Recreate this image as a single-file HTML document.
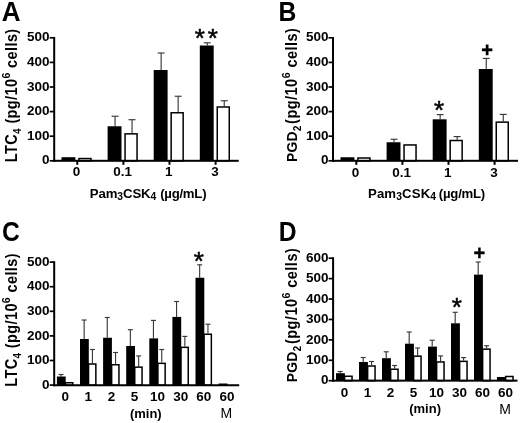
<!DOCTYPE html>
<html><head><meta charset="utf-8"><title>Figure</title>
<style>
html,body{margin:0;padding:0;background:#fff;}
svg{display:block;font-family:"Liberation Sans", Arial, Helvetica, sans-serif;fill:#000;filter:blur(0.4px);}
</style></head>
<body>
<svg width="520" height="423" viewBox="0 0 520 423">
<rect x="0" y="0" width="520" height="423" fill="#fff"/>
<text transform="translate(1.70,21.10) scale(1.0,1.04)" font-size="26" font-weight="bold">A</text>
<rect x="78.95" y="158.55" width="12.00" height="2.25" fill="#fff" stroke="#000" stroke-width="1.5"/>
<rect x="61.50" y="157.20" width="13.90" height="3.60" fill="#000" />
<line x1="132.05" y1="133.10" x2="132.05" y2="119.70" stroke="#3a3a3a" stroke-width="1.15"/>
<line x1="128.55" y1="119.70" x2="135.55" y2="119.70" stroke="#3a3a3a" stroke-width="1.15"/>
<rect x="125.05" y="133.85" width="12.00" height="26.95" fill="#fff" stroke="#000" stroke-width="1.5"/>
<line x1="115.05" y1="126.25" x2="115.05" y2="116.25" stroke="#3a3a3a" stroke-width="1.15"/>
<line x1="111.55" y1="116.25" x2="118.55" y2="116.25" stroke="#3a3a3a" stroke-width="1.15"/>
<rect x="107.60" y="126.25" width="13.90" height="34.55" fill="#000" />
<line x1="178.15" y1="112.00" x2="178.15" y2="96.25" stroke="#3a3a3a" stroke-width="1.15"/>
<line x1="174.65" y1="96.25" x2="181.65" y2="96.25" stroke="#3a3a3a" stroke-width="1.15"/>
<rect x="171.15" y="112.75" width="12.00" height="48.05" fill="#fff" stroke="#000" stroke-width="1.5"/>
<line x1="161.15" y1="70.00" x2="161.15" y2="53.00" stroke="#3a3a3a" stroke-width="1.15"/>
<line x1="157.65" y1="53.00" x2="164.65" y2="53.00" stroke="#3a3a3a" stroke-width="1.15"/>
<rect x="153.70" y="70.00" width="13.90" height="90.80" fill="#000" />
<line x1="224.25" y1="106.25" x2="224.25" y2="100.75" stroke="#3a3a3a" stroke-width="1.15"/>
<line x1="220.75" y1="100.75" x2="227.75" y2="100.75" stroke="#3a3a3a" stroke-width="1.15"/>
<rect x="217.25" y="107.00" width="12.00" height="53.80" fill="#fff" stroke="#000" stroke-width="1.5"/>
<line x1="207.25" y1="45.50" x2="207.25" y2="42.80" stroke="#3a3a3a" stroke-width="1.15"/>
<line x1="203.75" y1="42.80" x2="210.75" y2="42.80" stroke="#3a3a3a" stroke-width="1.15"/>
<rect x="199.80" y="45.50" width="13.90" height="115.30" fill="#000" />
<rect x="53.20" y="36.95" width="2.00" height="124.85" fill="#000" />
<rect x="53.20" y="159.80" width="185.55" height="2.00" fill="#000" />
<rect x="49.70" y="159.95" width="4.50" height="1.70" fill="#000" />
<text x="49.60" y="164.45" font-size="13.5" font-weight="bold" text-anchor="end" >0</text>
<rect x="49.70" y="135.35" width="4.50" height="1.70" fill="#000" />
<text x="49.60" y="139.85" font-size="13.5" font-weight="bold" text-anchor="end" >100</text>
<rect x="49.70" y="110.75" width="4.50" height="1.70" fill="#000" />
<text x="49.60" y="115.25" font-size="13.5" font-weight="bold" text-anchor="end" >200</text>
<rect x="49.70" y="86.15" width="4.50" height="1.70" fill="#000" />
<text x="49.60" y="90.65" font-size="13.5" font-weight="bold" text-anchor="end" >300</text>
<rect x="49.70" y="61.55" width="4.50" height="1.70" fill="#000" />
<text x="49.60" y="66.05" font-size="13.5" font-weight="bold" text-anchor="end" >400</text>
<rect x="49.70" y="36.95" width="4.50" height="1.70" fill="#000" />
<text x="49.60" y="41.45" font-size="13.5" font-weight="bold" text-anchor="end" >500</text>
<rect x="76.30" y="160.80" width="2.00" height="4.00" fill="#000" />
<text x="76.60" y="176.20" font-size="13.5" font-weight="bold" text-anchor="middle" >0</text>
<rect x="122.40" y="160.80" width="2.00" height="4.00" fill="#000" />
<text x="122.70" y="176.20" font-size="13.5" font-weight="bold" text-anchor="middle" >0.1</text>
<rect x="168.50" y="160.80" width="2.00" height="4.00" fill="#000" />
<text x="168.80" y="176.20" font-size="13.5" font-weight="bold" text-anchor="middle" >1</text>
<rect x="214.60" y="160.80" width="2.00" height="4.00" fill="#000" />
<text x="214.90" y="176.20" font-size="13.5" font-weight="bold" text-anchor="middle" >3</text>
<text transform="translate(16.70,162.20) rotate(-90) scale(1,1.1)" font-size="14.5" letter-spacing="0.4" font-weight="bold">LTC<tspan font-size="9.8" dy="3.5">4</tspan><tspan dy="-3.5"> (pg/10</tspan><tspan font-size="10.5" dy="-6.2">6</tspan><tspan dy="6.2"> cells)</tspan></text>
<text x="89.80" y="197.60" font-size="13.2" font-weight="bold" text-anchor="start" letter-spacing="-0.1">Pam<tspan font-size="10.3" dy="2.8">3</tspan><tspan dy="-2.8">CSK</tspan><tspan font-size="10.3" dy="2.8">4</tspan><tspan dy="-2.8"></tspan></text>
<text x="206.30" y="197.60" font-size="13.2" font-weight="bold" text-anchor="end" letter-spacing="-0.25">(µg/mL)</text>
<text transform="translate(278.60,21.10) scale(0.95,1.04)" font-size="26" font-weight="bold">B</text>
<rect x="357.95" y="158.00" width="12.00" height="2.80" fill="#fff" stroke="#000" stroke-width="1.5"/>
<rect x="340.50" y="157.25" width="13.90" height="3.55" fill="#000" />
<rect x="404.05" y="144.95" width="12.00" height="15.85" fill="#fff" stroke="#000" stroke-width="1.5"/>
<line x1="394.05" y1="142.25" x2="394.05" y2="139.25" stroke="#3a3a3a" stroke-width="1.15"/>
<line x1="390.55" y1="139.25" x2="397.55" y2="139.25" stroke="#3a3a3a" stroke-width="1.15"/>
<rect x="386.60" y="142.25" width="13.90" height="18.55" fill="#000" />
<line x1="457.15" y1="139.75" x2="457.15" y2="136.60" stroke="#3a3a3a" stroke-width="1.15"/>
<line x1="453.65" y1="136.60" x2="460.65" y2="136.60" stroke="#3a3a3a" stroke-width="1.15"/>
<rect x="450.15" y="140.50" width="12.00" height="20.30" fill="#fff" stroke="#000" stroke-width="1.5"/>
<line x1="440.15" y1="119.30" x2="440.15" y2="114.60" stroke="#3a3a3a" stroke-width="1.15"/>
<line x1="436.65" y1="114.60" x2="443.65" y2="114.60" stroke="#3a3a3a" stroke-width="1.15"/>
<rect x="432.70" y="119.30" width="13.90" height="41.50" fill="#000" />
<line x1="503.25" y1="121.40" x2="503.25" y2="114.40" stroke="#3a3a3a" stroke-width="1.15"/>
<line x1="499.75" y1="114.40" x2="506.75" y2="114.40" stroke="#3a3a3a" stroke-width="1.15"/>
<rect x="496.25" y="122.15" width="12.00" height="38.65" fill="#fff" stroke="#000" stroke-width="1.5"/>
<line x1="486.25" y1="69.00" x2="486.25" y2="58.40" stroke="#3a3a3a" stroke-width="1.15"/>
<line x1="482.75" y1="58.40" x2="489.75" y2="58.40" stroke="#3a3a3a" stroke-width="1.15"/>
<rect x="478.80" y="69.00" width="13.90" height="91.80" fill="#000" />
<rect x="332.00" y="37.05" width="2.00" height="124.75" fill="#000" />
<rect x="332.00" y="159.80" width="186.00" height="2.00" fill="#000" />
<rect x="328.50" y="159.95" width="4.50" height="1.70" fill="#000" />
<text x="328.50" y="164.45" font-size="13.5" font-weight="bold" text-anchor="end" >0</text>
<rect x="328.50" y="135.35" width="4.50" height="1.70" fill="#000" />
<text x="328.50" y="139.85" font-size="13.5" font-weight="bold" text-anchor="end" >100</text>
<rect x="328.50" y="110.75" width="4.50" height="1.70" fill="#000" />
<text x="328.50" y="115.25" font-size="13.5" font-weight="bold" text-anchor="end" >200</text>
<rect x="328.50" y="86.15" width="4.50" height="1.70" fill="#000" />
<text x="328.50" y="90.65" font-size="13.5" font-weight="bold" text-anchor="end" >300</text>
<rect x="328.50" y="61.55" width="4.50" height="1.70" fill="#000" />
<text x="328.50" y="66.05" font-size="13.5" font-weight="bold" text-anchor="end" >400</text>
<rect x="328.50" y="36.95" width="4.50" height="1.70" fill="#000" />
<text x="328.50" y="41.45" font-size="13.5" font-weight="bold" text-anchor="end" >500</text>
<rect x="355.30" y="160.80" width="2.00" height="4.00" fill="#000" />
<text x="355.60" y="176.50" font-size="13.5" font-weight="bold" text-anchor="middle" >0</text>
<rect x="401.40" y="160.80" width="2.00" height="4.00" fill="#000" />
<text x="401.70" y="176.50" font-size="13.5" font-weight="bold" text-anchor="middle" >0.1</text>
<rect x="447.50" y="160.80" width="2.00" height="4.00" fill="#000" />
<text x="447.80" y="176.50" font-size="13.5" font-weight="bold" text-anchor="middle" >1</text>
<rect x="493.60" y="160.80" width="2.00" height="4.00" fill="#000" />
<text x="493.90" y="176.50" font-size="13.5" font-weight="bold" text-anchor="middle" >3</text>
<text transform="translate(297.20,162.00) rotate(-90) scale(1,1.1)" font-size="13.9" letter-spacing="0.27" font-weight="bold">PGD<tspan font-size="9.8" dy="3.5">2</tspan><tspan dy="-3.5"></tspan></text>
<text transform="translate(297.20,123.90) rotate(-90) scale(1,1.1)" font-size="14.5" letter-spacing="0.48" font-weight="bold">(pg/10<tspan font-size="10.5" dy="-6.2">6</tspan><tspan dy="6.2"> cells)</tspan></text>
<text x="368.00" y="197.60" font-size="13.2" font-weight="bold" text-anchor="start" letter-spacing="0.12">Pam<tspan font-size="10.3" dy="2.8">3</tspan><tspan dy="-2.8">CSK</tspan><tspan font-size="10.3" dy="2.8">4</tspan><tspan dy="-2.8"></tspan></text>
<text x="485.00" y="197.60" font-size="13.2" font-weight="bold" text-anchor="end" letter-spacing="-0.25">(µg/mL)</text>
<text transform="translate(2.10,240.80) scale(0.95,1.04)" font-size="26" font-weight="bold">C</text>
<rect x="65.45" y="382.75" width="7.30" height="2.50" fill="#fff" stroke="#000" stroke-width="1.5"/>
<line x1="61.05" y1="376.50" x2="61.05" y2="374.50" stroke="#3a3a3a" stroke-width="1.15"/>
<line x1="58.55" y1="374.50" x2="63.55" y2="374.50" stroke="#3a3a3a" stroke-width="1.15"/>
<rect x="56.90" y="376.50" width="8.80" height="8.75" fill="#000" />
<line x1="92.45" y1="363.25" x2="92.45" y2="349.50" stroke="#3a3a3a" stroke-width="1.15"/>
<line x1="89.95" y1="349.50" x2="94.95" y2="349.50" stroke="#3a3a3a" stroke-width="1.15"/>
<rect x="88.55" y="364.00" width="7.30" height="21.25" fill="#fff" stroke="#000" stroke-width="1.5"/>
<line x1="84.15" y1="339.00" x2="84.15" y2="320.00" stroke="#3a3a3a" stroke-width="1.15"/>
<line x1="81.65" y1="320.00" x2="86.65" y2="320.00" stroke="#3a3a3a" stroke-width="1.15"/>
<rect x="80.00" y="339.00" width="8.80" height="46.25" fill="#000" />
<line x1="115.55" y1="364.00" x2="115.55" y2="352.50" stroke="#3a3a3a" stroke-width="1.15"/>
<line x1="113.05" y1="352.50" x2="118.05" y2="352.50" stroke="#3a3a3a" stroke-width="1.15"/>
<rect x="111.65" y="364.75" width="7.30" height="20.50" fill="#fff" stroke="#000" stroke-width="1.5"/>
<line x1="107.25" y1="337.75" x2="107.25" y2="317.50" stroke="#3a3a3a" stroke-width="1.15"/>
<line x1="104.75" y1="317.50" x2="109.75" y2="317.50" stroke="#3a3a3a" stroke-width="1.15"/>
<rect x="103.10" y="337.75" width="8.80" height="47.50" fill="#000" />
<line x1="138.65" y1="366.40" x2="138.65" y2="355.90" stroke="#3a3a3a" stroke-width="1.15"/>
<line x1="136.15" y1="355.90" x2="141.15" y2="355.90" stroke="#3a3a3a" stroke-width="1.15"/>
<rect x="134.75" y="367.15" width="7.30" height="18.10" fill="#fff" stroke="#000" stroke-width="1.5"/>
<line x1="130.35" y1="346.00" x2="130.35" y2="329.70" stroke="#3a3a3a" stroke-width="1.15"/>
<line x1="127.85" y1="329.70" x2="132.85" y2="329.70" stroke="#3a3a3a" stroke-width="1.15"/>
<rect x="126.20" y="346.00" width="8.80" height="39.25" fill="#000" />
<line x1="161.75" y1="362.60" x2="161.75" y2="349.50" stroke="#3a3a3a" stroke-width="1.15"/>
<line x1="159.25" y1="349.50" x2="164.25" y2="349.50" stroke="#3a3a3a" stroke-width="1.15"/>
<rect x="157.85" y="363.35" width="7.30" height="21.90" fill="#fff" stroke="#000" stroke-width="1.5"/>
<line x1="153.45" y1="338.40" x2="153.45" y2="320.40" stroke="#3a3a3a" stroke-width="1.15"/>
<line x1="150.95" y1="320.40" x2="155.95" y2="320.40" stroke="#3a3a3a" stroke-width="1.15"/>
<rect x="149.30" y="338.40" width="8.80" height="46.85" fill="#000" />
<line x1="184.85" y1="346.60" x2="184.85" y2="336.40" stroke="#3a3a3a" stroke-width="1.15"/>
<line x1="182.35" y1="336.40" x2="187.35" y2="336.40" stroke="#3a3a3a" stroke-width="1.15"/>
<rect x="180.95" y="347.35" width="7.30" height="37.90" fill="#fff" stroke="#000" stroke-width="1.5"/>
<line x1="176.55" y1="316.90" x2="176.55" y2="301.50" stroke="#3a3a3a" stroke-width="1.15"/>
<line x1="174.05" y1="301.50" x2="179.05" y2="301.50" stroke="#3a3a3a" stroke-width="1.15"/>
<rect x="172.40" y="316.90" width="8.80" height="68.35" fill="#000" />
<line x1="207.95" y1="333.50" x2="207.95" y2="324.20" stroke="#3a3a3a" stroke-width="1.15"/>
<line x1="205.45" y1="324.20" x2="210.45" y2="324.20" stroke="#3a3a3a" stroke-width="1.15"/>
<rect x="204.05" y="334.25" width="7.30" height="51.00" fill="#fff" stroke="#000" stroke-width="1.5"/>
<line x1="199.65" y1="277.75" x2="199.65" y2="264.80" stroke="#3a3a3a" stroke-width="1.15"/>
<line x1="197.15" y1="264.80" x2="202.15" y2="264.80" stroke="#3a3a3a" stroke-width="1.15"/>
<rect x="195.50" y="277.75" width="8.80" height="107.50" fill="#000" />
<rect x="218.60" y="383.50" width="8.80" height="1.75" fill="#000" />
<rect x="53.20" y="261.25" width="2.00" height="125.00" fill="#000" />
<rect x="53.20" y="384.25" width="186.00" height="2.00" fill="#000" />
<rect x="49.70" y="384.25" width="4.50" height="1.70" fill="#000" />
<text x="49.50" y="388.75" font-size="13.5" font-weight="bold" text-anchor="end" >0</text>
<rect x="49.70" y="359.65" width="4.50" height="1.70" fill="#000" />
<text x="49.50" y="364.15" font-size="13.5" font-weight="bold" text-anchor="end" >100</text>
<rect x="49.70" y="335.05" width="4.50" height="1.70" fill="#000" />
<text x="49.50" y="339.55" font-size="13.5" font-weight="bold" text-anchor="end" >200</text>
<rect x="49.70" y="310.45" width="4.50" height="1.70" fill="#000" />
<text x="49.50" y="314.95" font-size="13.5" font-weight="bold" text-anchor="end" >300</text>
<rect x="49.70" y="285.85" width="4.50" height="1.70" fill="#000" />
<text x="49.50" y="290.35" font-size="13.5" font-weight="bold" text-anchor="end" >400</text>
<rect x="49.70" y="261.25" width="4.50" height="1.70" fill="#000" />
<text x="49.50" y="265.75" font-size="13.5" font-weight="bold" text-anchor="end" >500</text>
<text x="65.20" y="401.00" font-size="13.5" font-weight="bold" text-anchor="middle" >0</text>
<text x="88.30" y="401.00" font-size="13.5" font-weight="bold" text-anchor="middle" >1</text>
<text x="111.40" y="401.00" font-size="13.5" font-weight="bold" text-anchor="middle" >2</text>
<text x="134.50" y="401.00" font-size="13.5" font-weight="bold" text-anchor="middle" >5</text>
<text x="157.60" y="401.00" font-size="13.5" font-weight="bold" text-anchor="middle" >10</text>
<text x="180.70" y="401.00" font-size="13.5" font-weight="bold" text-anchor="middle" >30</text>
<text x="203.80" y="401.00" font-size="13.5" font-weight="bold" text-anchor="middle" >60</text>
<text x="226.90" y="401.00" font-size="13.5" font-weight="bold" text-anchor="middle" >60</text>
<text transform="translate(17.00,386.80) rotate(-90) scale(1,1.1)" font-size="14.5" letter-spacing="0.4" font-weight="bold">LTC<tspan font-size="9.8" dy="3.5">4</tspan><tspan dy="-3.5"> (pg/10</tspan><tspan font-size="10.5" dy="-6.2">6</tspan><tspan dy="6.2"> cells)</tspan></text>
<text x="145.80" y="417.70" font-size="13" font-weight="bold" text-anchor="middle" >(min)</text>
<text x="226.40" y="418.30" font-size="14" font-weight="normal" text-anchor="middle" >M</text>
<text transform="translate(278.80,240.90) scale(0.95,1.04)" font-size="26" font-weight="bold">D</text>
<rect x="344.65" y="376.25" width="7.40" height="4.40" fill="#fff" stroke="#000" stroke-width="1.5"/>
<line x1="340.20" y1="373.20" x2="340.20" y2="371.50" stroke="#3a3a3a" stroke-width="1.15"/>
<line x1="337.70" y1="371.50" x2="342.70" y2="371.50" stroke="#3a3a3a" stroke-width="1.15"/>
<rect x="336.00" y="373.20" width="8.90" height="7.45" fill="#000" />
<line x1="371.60" y1="365.25" x2="371.60" y2="361.50" stroke="#3a3a3a" stroke-width="1.15"/>
<line x1="369.10" y1="361.50" x2="374.10" y2="361.50" stroke="#3a3a3a" stroke-width="1.15"/>
<rect x="367.65" y="366.00" width="7.40" height="14.65" fill="#fff" stroke="#000" stroke-width="1.5"/>
<line x1="363.20" y1="362.00" x2="363.20" y2="357.50" stroke="#3a3a3a" stroke-width="1.15"/>
<line x1="360.70" y1="357.50" x2="365.70" y2="357.50" stroke="#3a3a3a" stroke-width="1.15"/>
<rect x="359.00" y="362.00" width="8.90" height="18.65" fill="#000" />
<line x1="394.60" y1="368.50" x2="394.60" y2="365.50" stroke="#3a3a3a" stroke-width="1.15"/>
<line x1="392.10" y1="365.50" x2="397.10" y2="365.50" stroke="#3a3a3a" stroke-width="1.15"/>
<rect x="390.65" y="369.25" width="7.40" height="11.40" fill="#fff" stroke="#000" stroke-width="1.5"/>
<line x1="386.20" y1="358.20" x2="386.20" y2="351.80" stroke="#3a3a3a" stroke-width="1.15"/>
<line x1="383.70" y1="351.80" x2="388.70" y2="351.80" stroke="#3a3a3a" stroke-width="1.15"/>
<rect x="382.00" y="358.20" width="8.90" height="22.45" fill="#000" />
<line x1="417.60" y1="355.40" x2="417.60" y2="348.00" stroke="#3a3a3a" stroke-width="1.15"/>
<line x1="415.10" y1="348.00" x2="420.10" y2="348.00" stroke="#3a3a3a" stroke-width="1.15"/>
<rect x="413.65" y="356.15" width="7.40" height="24.50" fill="#fff" stroke="#000" stroke-width="1.5"/>
<line x1="409.20" y1="343.70" x2="409.20" y2="332.00" stroke="#3a3a3a" stroke-width="1.15"/>
<line x1="406.70" y1="332.00" x2="411.70" y2="332.00" stroke="#3a3a3a" stroke-width="1.15"/>
<rect x="405.00" y="343.70" width="8.90" height="36.95" fill="#000" />
<line x1="440.60" y1="361.20" x2="440.60" y2="355.90" stroke="#3a3a3a" stroke-width="1.15"/>
<line x1="438.10" y1="355.90" x2="443.10" y2="355.90" stroke="#3a3a3a" stroke-width="1.15"/>
<rect x="436.65" y="361.95" width="7.40" height="18.70" fill="#fff" stroke="#000" stroke-width="1.5"/>
<line x1="432.20" y1="346.60" x2="432.20" y2="340.20" stroke="#3a3a3a" stroke-width="1.15"/>
<line x1="429.70" y1="340.20" x2="434.70" y2="340.20" stroke="#3a3a3a" stroke-width="1.15"/>
<rect x="428.00" y="346.60" width="8.90" height="34.05" fill="#000" />
<line x1="463.60" y1="360.60" x2="463.60" y2="357.60" stroke="#3a3a3a" stroke-width="1.15"/>
<line x1="461.10" y1="357.60" x2="466.10" y2="357.60" stroke="#3a3a3a" stroke-width="1.15"/>
<rect x="459.65" y="361.35" width="7.40" height="19.30" fill="#fff" stroke="#000" stroke-width="1.5"/>
<line x1="455.20" y1="323.30" x2="455.20" y2="312.30" stroke="#3a3a3a" stroke-width="1.15"/>
<line x1="452.70" y1="312.30" x2="457.70" y2="312.30" stroke="#3a3a3a" stroke-width="1.15"/>
<rect x="451.00" y="323.30" width="8.90" height="57.35" fill="#000" />
<line x1="486.60" y1="348.40" x2="486.60" y2="345.70" stroke="#3a3a3a" stroke-width="1.15"/>
<line x1="484.10" y1="345.70" x2="489.10" y2="345.70" stroke="#3a3a3a" stroke-width="1.15"/>
<rect x="482.65" y="349.15" width="7.40" height="31.50" fill="#fff" stroke="#000" stroke-width="1.5"/>
<line x1="478.20" y1="274.60" x2="478.20" y2="262.00" stroke="#3a3a3a" stroke-width="1.15"/>
<line x1="475.70" y1="262.00" x2="480.70" y2="262.00" stroke="#3a3a3a" stroke-width="1.15"/>
<rect x="474.00" y="274.60" width="8.90" height="106.05" fill="#000" />
<rect x="505.65" y="376.50" width="7.40" height="4.15" fill="#fff" stroke="#000" stroke-width="1.5"/>
<rect x="497.00" y="377.00" width="8.90" height="3.65" fill="#000" />
<rect x="332.10" y="257.35" width="2.00" height="124.30" fill="#000" />
<rect x="332.10" y="379.65" width="185.40" height="2.00" fill="#000" />
<rect x="328.60" y="379.85" width="4.50" height="1.70" fill="#000" />
<text x="328.60" y="384.35" font-size="13.5" font-weight="bold" text-anchor="end" >0</text>
<rect x="328.60" y="359.43" width="4.50" height="1.70" fill="#000" />
<text x="328.60" y="363.93" font-size="13.5" font-weight="bold" text-anchor="end" >100</text>
<rect x="328.60" y="339.02" width="4.50" height="1.70" fill="#000" />
<text x="328.60" y="343.52" font-size="13.5" font-weight="bold" text-anchor="end" >200</text>
<rect x="328.60" y="318.60" width="4.50" height="1.70" fill="#000" />
<text x="328.60" y="323.10" font-size="13.5" font-weight="bold" text-anchor="end" >300</text>
<rect x="328.60" y="298.18" width="4.50" height="1.70" fill="#000" />
<text x="328.60" y="302.68" font-size="13.5" font-weight="bold" text-anchor="end" >400</text>
<rect x="328.60" y="277.76" width="4.50" height="1.70" fill="#000" />
<text x="328.60" y="282.26" font-size="13.5" font-weight="bold" text-anchor="end" >500</text>
<rect x="328.60" y="257.35" width="4.50" height="1.70" fill="#000" />
<text x="328.60" y="261.85" font-size="13.5" font-weight="bold" text-anchor="end" >600</text>
<text x="344.40" y="396.80" font-size="13.5" font-weight="bold" text-anchor="middle" >0</text>
<text x="367.40" y="396.80" font-size="13.5" font-weight="bold" text-anchor="middle" >1</text>
<text x="390.40" y="396.80" font-size="13.5" font-weight="bold" text-anchor="middle" >2</text>
<text x="413.40" y="396.80" font-size="13.5" font-weight="bold" text-anchor="middle" >5</text>
<text x="436.40" y="396.80" font-size="13.5" font-weight="bold" text-anchor="middle" >10</text>
<text x="459.40" y="396.80" font-size="13.5" font-weight="bold" text-anchor="middle" >30</text>
<text x="482.40" y="396.80" font-size="13.5" font-weight="bold" text-anchor="middle" >60</text>
<text x="505.40" y="396.80" font-size="13.5" font-weight="bold" text-anchor="middle" >60</text>
<text transform="translate(297.20,382.30) rotate(-90) scale(1,1.1)" font-size="13.9" letter-spacing="0.27" font-weight="bold">PGD<tspan font-size="9.8" dy="3.5">2</tspan><tspan dy="-3.5"></tspan></text>
<text transform="translate(297.20,344.10) rotate(-90) scale(1,1.1)" font-size="14.5" letter-spacing="0.48" font-weight="bold">(pg/10<tspan font-size="10.5" dy="-6.2">6</tspan><tspan dy="6.2"> cells)</tspan></text>
<text x="425.10" y="413.40" font-size="13" font-weight="bold" text-anchor="middle" >(min)</text>
<text x="505.20" y="413.80" font-size="14" font-weight="normal" text-anchor="middle" >M</text>
<text x="199.90" y="47.44" font-size="26" font-weight="normal" text-anchor="middle" stroke="#000" stroke-width="0.5">*</text>
<text x="212.80" y="47.44" font-size="26" font-weight="normal" text-anchor="middle" stroke="#000" stroke-width="0.5">*</text>
<text x="439.00" y="119.14" font-size="26" font-weight="normal" text-anchor="middle" stroke="#000" stroke-width="0.5">*</text>
<text x="198.70" y="270.44" font-size="26" font-weight="normal" text-anchor="middle" stroke="#000" stroke-width="0.5">*</text>
<text x="456.80" y="316.04" font-size="26" font-weight="normal" text-anchor="middle" stroke="#000" stroke-width="0.5">*</text>
<text x="487.00" y="57.15" font-size="20" font-weight="bold" text-anchor="middle" stroke="#000" stroke-width="0.4">+</text>
<text x="479.40" y="259.55" font-size="20" font-weight="bold" text-anchor="middle" stroke="#000" stroke-width="0.4">+</text>
</svg>
</body></html>
